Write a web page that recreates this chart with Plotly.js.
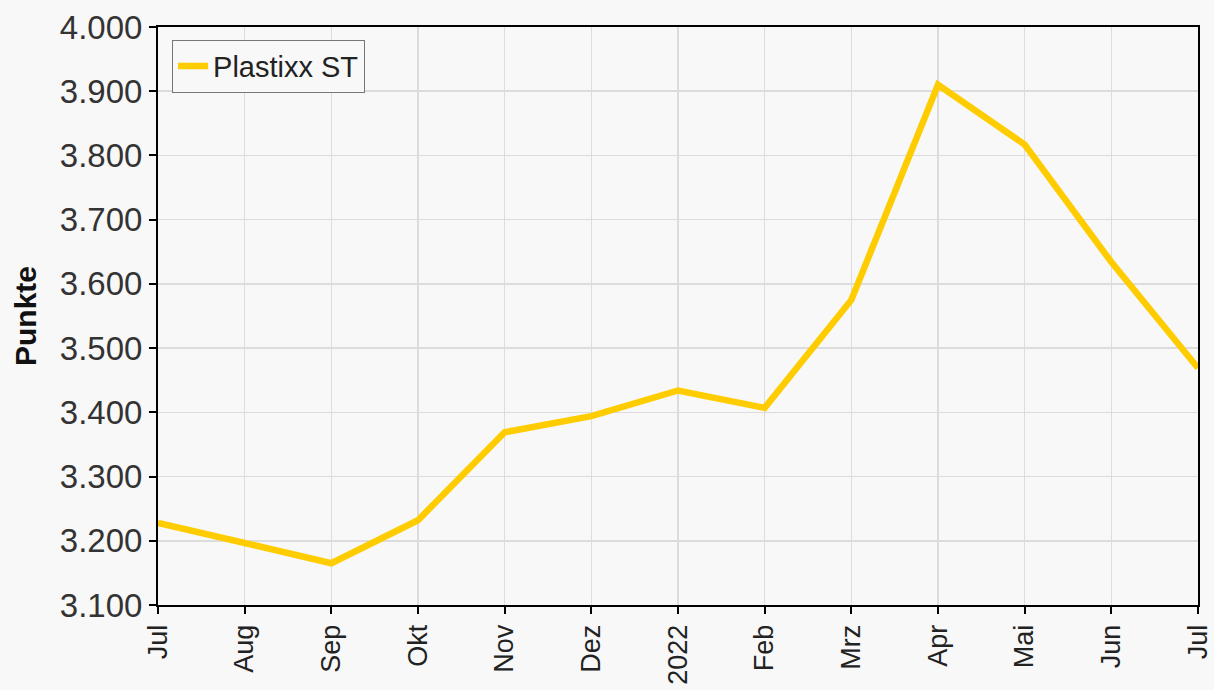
<!DOCTYPE html>
<html>
<head>
<meta charset="utf-8">
<script src="https://cdn.plot.ly/plotly-3.0.1.min.js"></script>
<style>html,body{margin:0;padding:0;background:#f8f8f8;}</style>
</head>
<body>
<div id="chart" style="width:1214px;height:690px;"></div>
<script>
const categories = ["Jul 2021","Aug","Sep","Okt","Nov","Dez","2022","Feb","Mrz","Apr","Mai","Jun","Jul 2022"];
const tickLabels = ["Jul","Aug","Sep","Okt","Nov","Dez","2022","Feb","Mrz","Apr","Mai","Jun","Jul"];
const plastixxST = [3228,3196,3165,3232,3369,3394,3434,3407,3575,3910,3817,3634,3469];
const seriesName = "Plastixx ST";

const trace = {
  x: categories,
  y: plastixxST,
  type: "scatter",
  mode: "lines",
  name: seriesName,
  line: {color: "#ffcc00", width: 6.5}
};

const layout = {
  width: 1214, height: 690,
  paper_bgcolor: "#f8f8f8",
  plot_bgcolor: "#f8f8f8",
  separators: ",.",
  margin: {l: 158, r: 16, t: 27, b: 85},
  font: {family: "Liberation Sans, Arial, sans-serif", color: "#333"},
  showlegend: true,
  legend: {
    x: 0.0135, y: 0.978, xanchor: "left", yanchor: "top",
    bgcolor: "#f8f8f8", bordercolor: "#777", borderwidth: 1,
    font: {size: 29, color: "#222"},
    tracegroupgap: 0
  },
  xaxis: {
    type: "category",
    range: [0, 12],
    tickvals: categories,
    ticktext: tickLabels,
    tickangle: -90,
    tickfont: {size: 27, color: "#222"},
    ticks: "outside", ticklen: 7, tickcolor: "#000", tickwidth: 2,
    showline: true, linecolor: "#000", linewidth: 2, mirror: true,
    showgrid: true, gridcolor: "#dcdcdc", gridwidth: 1.5,
    zeroline: false
  },
  yaxis: {
    range: [3100, 4000],
    dtick: 100,
    tickformat: ",d",
    tickfont: {size: 33, color: "#333"},
    ticks: "outside", ticklen: 7, tickcolor: "#000", tickwidth: 2,
    showline: true, linecolor: "#000", linewidth: 2, mirror: true,
    showgrid: true, gridcolor: "#dcdcdc", gridwidth: 1.5,
    zeroline: false,
    title: {text: "<b>Punkte</b>", font: {size: 30, color: "#111"}, standoff: 14}
  }
};

Plotly.newPlot("chart", [trace], layout, {displayModeBar: false, staticPlot: true});
</script>
</body>
</html>
